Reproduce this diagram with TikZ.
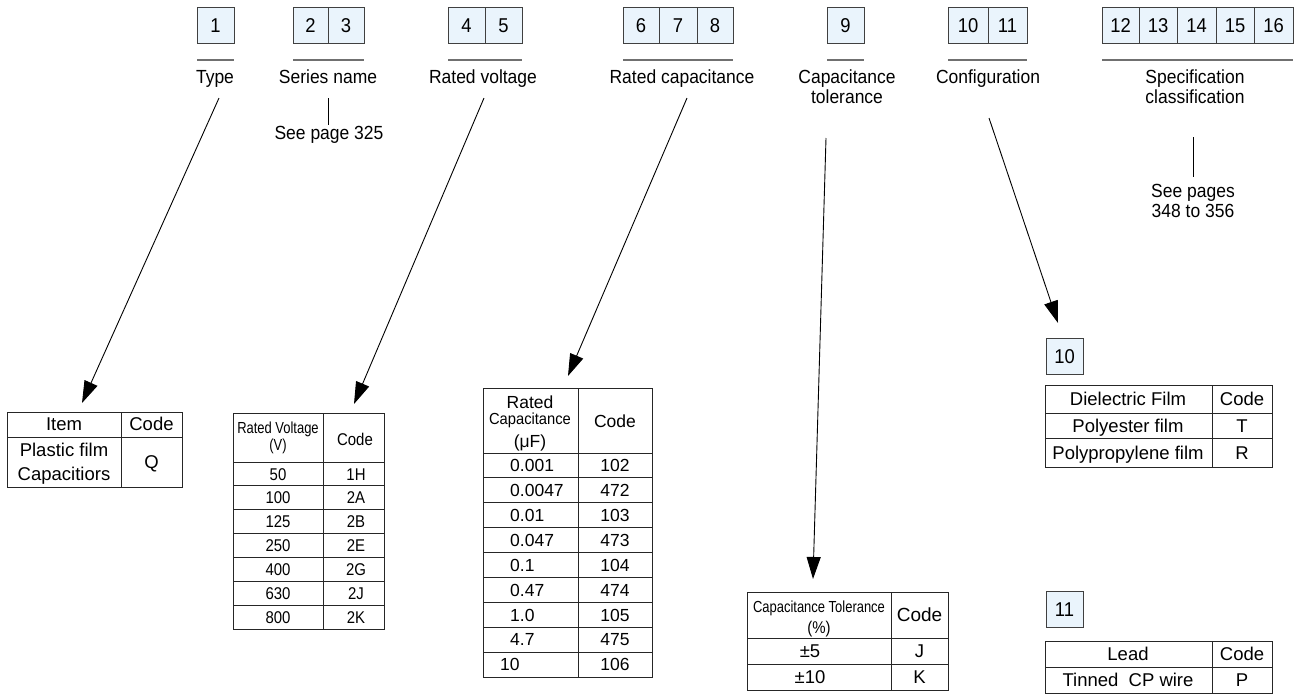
\documentclass[tikz,border=0pt]{standalone}
\usepackage{fontspec}
\setmainfont{Liberation Sans}
\newfontfamily\condfont{Liberation Sans}[FakeStretch=0.92]
\newfontfamily\midfont{Liberation Sans}[FakeStretch=0.88]
\newfontfamily\narrowfont{Liberation Sans}[FakeStretch=0.81]
\usetikzlibrary{arrows.meta}
\definecolor{boxblue}{HTML}{EAF4FC}
\definecolor{ulgrey}{HTML}{707070}
\tikzset{
  captxt/.style={inner sep=0pt, text depth=0pt},
  cellbox/.style={captxt, text height=14.3pt, draw=black!75, fill=boxblue, line width=0.9pt, minimum height=36pt,
    font=\condfont\fontsize{20pt}{22pt}\selectfont},
  lbl/.style={captxt, text height=13.6pt, font=\condfont\fontsize{19pt}{21pt}\selectfont},
  tt/.style={captxt, text height=13.2pt, font=\fontsize{18.5pt}{20pt}\selectfont},
  tsmall/.style={captxt, text height=11.5pt, font=\narrowfont\fontsize{16pt}{18pt}\selectfont},
  tvolt/.style={captxt, text height=12.2pt, font=\midfont\fontsize{17pt}{19pt}\selectfont},
  tcap/.style={captxt, text height=12.5pt, font=\fontsize{17.5pt}{19pt}\selectfont},
  uline/.style={draw=ulgrey, line width=1.4pt},
  lead/.style={draw=black, line width=0.9pt},
  arr/.style={draw=black, line width=0.9pt, -{Triangle[length=22pt, width=14pt]}},
  tbl/.style={draw=black!85, line width=1pt},
}
\begin{document}
\begin{tikzpicture}[x=1pt, y=-1pt]
\useasboundingbox (0,0) rectangle (1296,694);

% ---------- top code boxes ----------
\node[cellbox, minimum width=37pt] (b1) at (215.5,25) {1};
\node[cellbox, minimum width=35pt] (b2) at (310.5,25) {2};
\node[cellbox, minimum width=36pt] (b3) at (346,25) {3};
\node[cellbox, minimum width=37pt] (b4) at (466.5,25) {4};
\node[cellbox, minimum width=37pt] (b5) at (503.5,25) {5};
\node[cellbox, minimum width=36pt] (b6) at (641,25) {6};
\node[cellbox, minimum width=38pt] (b7) at (678,25) {7};
\node[cellbox, minimum width=36pt] (b8) at (715,25) {8};
\node[cellbox, minimum width=37pt] (b9) at (845.5,25) {9};
\node[cellbox, minimum width=40pt] (b10) at (968,25) {10};
\node[cellbox, minimum width=39pt] (b11) at (1007.5,25) {11};
\node[cellbox, minimum width=37pt] (b12) at (1120.5,25) {12};
\node[cellbox, minimum width=38pt] (b13) at (1158,25) {13};
\node[cellbox, minimum width=39pt] (b14) at (1196.5,25) {14};
\node[cellbox, minimum width=38pt] (b15) at (1235,25) {15};
\node[cellbox, minimum width=39pt] (b16) at (1273.5,25) {16};

% ---------- underlines ----------
\draw[uline] (197,60) -- (234,60);
\draw[uline] (293,60) -- (364,60);
\draw[uline] (448,60) -- (522,60);
\draw[uline] (623,60) -- (733,60);
\draw[uline] (827,60) -- (864,60);
\draw[uline] (948,60) -- (1027,60);
\draw[uline] (1102,60) -- (1293,60);

% ---------- labels ----------
\node[lbl] (ltype) at (215,77) {Type};
\node[lbl] (lser) at (328,77) {Series name};
\node[lbl] (lvolt) at (483,77) {Rated voltage};
\node[lbl] (lcap) at (682,77) {Rated capacitance};
\node[lbl] (ltol1) at (847,77) {Capacitance};
\node[lbl] (ltol2) at (847,97) {tolerance};
\node[lbl] (lconf) at (988,77) {Configuration};
\node[lbl] (lspec1) at (1195,77) {Specification};
\node[lbl] (lspec2) at (1195,97) {classification};

% series / spec references
\coordinate (s1) at (328,98);
\coordinate (s2) at (328,125);
\draw[lead] (s1) -- (s2);
\node[lbl] (see1) at (329,133) {See page 325};
\coordinate (p1) at (1193,137);
\coordinate (p2) at (1193,177);
\draw[lead] (p1) -- (p2);
\node[lbl] (see2a) at (1193,191) {See pages};
\node[lbl] (see2b) at (1193,211) {348 to 356};

% ---------- arrows ----------
\coordinate (a1s) at (219,98);   \coordinate (a1e) at (82,403);
\coordinate (a2s) at (484,98);   \coordinate (a2e) at (354,404);
\coordinate (a3s) at (687,98);   \coordinate (a3e) at (568,376);
\coordinate (a4s) at (826,138);  \coordinate (a4e) at (813,579);
\coordinate (a5s) at (989,118);  \coordinate (a5e) at (1058,323);
\draw[arr] (a1s) -- (a1e);
\draw[arr] (a2s) -- (a2e);
\draw[arr] (a3s) -- (a3e);
\draw[arr] (a4s) -- (a4e);
\draw[arr] (a5s) -- (a5e);

% ---------- table 1 : type ----------
\draw[tbl] (7,412) rectangle (182,487);
\draw[tbl] (121,412) -- (121,487);
\draw[tbl] (7,437) -- (182,437);
\node[tt] (t1a) at (64,424) {Item};
\node[tt] (t1b) at (151.5,424) {Code};
\node[tt] (t1c) at (64,450) {Plastic film};
\node[tt] (t1d) at (64,474) {Capacitiors};
\node[tt] (t1e) at (151.5,462) {Q};

% ---------- table 2 : rated voltage ----------
\draw[tbl] (233,413) rectangle (384,629);
\draw[tbl] (323,413) -- (323,629);
\foreach \i in {0,...,6} \draw[tbl] (233,{462+23.857*\i}) -- (384,{462+23.857*\i});
\node[tsmall] (t2a) at (278,427.5) {Rated Voltage};
\node[tsmall] (t2b) at (278,445) {(V)};
\node[tvolt] (t2c) at (355,439) {Code};
\foreach \v/\c [count=\i from 0] in {50/1H,100/2A,125/2B,250/2E,400/2G,630/2J,800/2K} {
  \node[tvolt] (t2v\i) at (278,{462+23.857*\i+11.93}) {\v};
  \node[tvolt] (t2c\i) at (356,{462+23.857*\i+11.93}) {\c};
}

% ---------- table 3 : rated capacitance ----------
\draw[tbl] (483,388) rectangle (652,677);
\draw[tbl] (578,388) -- (578,677);
\foreach \i in {0,...,8} \draw[tbl] (483,{453+24.89*\i}) -- (652,{453+24.89*\i});
\node[tcap] (t3a) at (530,402) {Rated};
\node[tsmall, font=\condfont\fontsize{16pt}{18pt}\selectfont] (t3b) at (530,419) {Capacitance};
\node[tcap] (t3c) at (530,441) {(μF)};
\node[tcap] (t3d) at (615,421) {Code};
\foreach \v/\c [count=\i from 0] in {0.001/102,0.0047/472,0.01/103,0.047/473,0.1/104,0.47/474,1.0/105,4.7/475} {
  \node[tcap, anchor=west] (t3v\i) at (510,{453+24.89*\i+12.45}) {\v};
  \node[tcap] (t3c\i) at (615,{453+24.89*\i+12.45}) {\c};
}
\node[tcap, anchor=west] (t3v8) at (500,{453+24.89*8+12.45}) {10};
\node[tcap] (t3c8) at (615,{453+24.89*8+12.45}) {106};

% ---------- table 4 : tolerance ----------
\draw[tbl] (747,592) rectangle (948,690);
\draw[tbl] (891,592) -- (891,690);
\draw[tbl] (747,638) -- (948,638);
\draw[tbl] (747,664) -- (948,664);
\node[tsmall] (t4a) at (819,607) {Capacitance Tolerance};
\node[tsmall, font=\midfont\fontsize{17pt}{19pt}\selectfont] (t4b) at (819,628) {(\%)};
\node[tt, text height=13.6pt, font=\fontsize{19pt}{21pt}\selectfont] (t4c) at (919.5,615) {Code};
\node[tt] (t4d) at (810,651) {±5};
\node[tt] (t4e) at (810,677) {±10};
\node[tt] (t4f) at (919.5,651) {J};
\node[tt] (t4g) at (919.5,677) {K};

% ---------- section 10 ----------
\node[cellbox, minimum width=37pt] (c10) at (1064.5,356) {10};
\draw[tbl] (1045,385) rectangle (1272,467);
\draw[tbl] (1212,385) -- (1212,467);
\draw[tbl] (1045,413) -- (1272,413);
\draw[tbl] (1045,438) -- (1272,438);
\node[tt] (t5a) at (1128,399) {Dielectric Film};
\node[tt] (t5b) at (1242,399) {Code};
\node[tt] (t5c) at (1128,425.5) {Polyester film};
\node[tt] (t5d) at (1242,425.5) {T};
\node[tt] (t5e) at (1128,452.5) {Polypropylene film};
\node[tt] (t5f) at (1242,452.5) {R};

% ---------- section 11 ----------
\node[cellbox, minimum width=37pt] (c11) at (1064.5,609) {11};
\draw[tbl] (1045,641) rectangle (1272,693);
\draw[tbl] (1212,641) -- (1212,693);
\draw[tbl] (1045,667) -- (1272,667);
\node[tt] (t6a) at (1128,654) {Lead};
\node[tt] (t6b) at (1242,654) {Code};
\node[tt] (t6c) at (1128,680) {Tinned\ \ CP wire};
\node[tt] (t6d) at (1242,680) {P};
\end{tikzpicture}
\end{document}
